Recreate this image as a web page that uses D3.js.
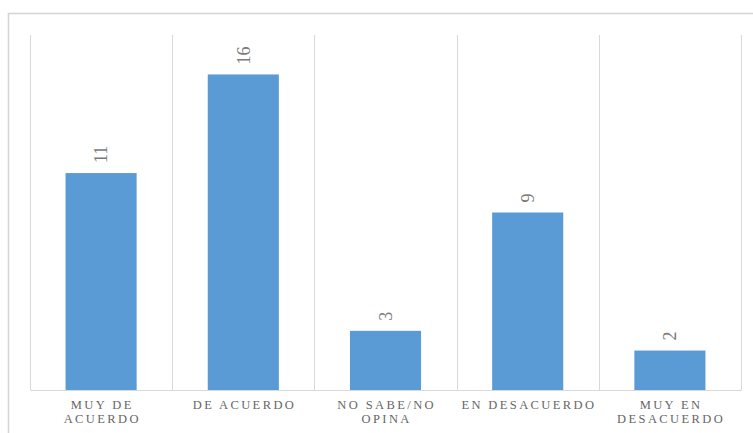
<!DOCTYPE html>
<html>
<head>
<meta charset="utf-8">
<script src="https://cdn.jsdelivr.net/npm/d3@7"></script>
<style>
  html, body { margin: 0; padding: 0; background: #fff; }
  svg { display: block; }
</style>
</head>
<body>
<svg id="chart" width="753" height="433"></svg>
<script>
const categories = ["MUY DE|ACUERDO", "DE ACUERDO", "NO SABE/NO|OPINA", "EN DESACUERDO", "MUY EN|DESACUERDO"];
const values = [11, 16, 3, 9, 2];
const yDomain = [0, 18];

const W = 753, H = 433;
const plot = { left: 30, right: 741, top: 35, bottom: 390 };
const svg = d3.select("#chart");

// outer chart frame (cropped at right/bottom)
svg.append("path")
  .attr("d", `M8.5,${H + 5} L8.5,13.5 L${W + 5},13.5`)
  .attr("fill", "none").attr("stroke", "#d4d4d4").attr("stroke-width", 1.5);

const x = d3.scaleBand().domain(categories).range([plot.left, plot.right])
  .paddingInner(0.5).paddingOuter(0.25);
const y = d3.scaleLinear().domain(yDomain).range([plot.bottom, plot.top]);

// category gridlines (boundaries between categories)
const step = x.step();
const bounds = d3.range(categories.length + 1).map(i => plot.left + i * step);
svg.append("g").selectAll("line").data(bounds).join("line")
  .attr("x1", d => Math.round(d) + 0.5).attr("x2", d => Math.round(d) + 0.5)
  .attr("y1", plot.top).attr("y2", plot.bottom)
  .attr("stroke", "#d9d9d9").attr("stroke-width", 1);

// bars
svg.append("g").selectAll("rect").data(values).join("rect")
  .attr("x", (d, i) => x(categories[i]))
  .attr("width", x.bandwidth())
  .attr("y", d => y(d))
  .attr("height", d => y(0) - y(d))
  .attr("fill", "#5b9bd5");

// baseline axis
const xAxis = d3.axisBottom(x).tickSize(0).tickFormat("");
const axisG = svg.append("g").attr("transform", `translate(0,${plot.bottom})`).call(xAxis);
axisG.select(".domain").attr("stroke", "#d9d9d9").attr("stroke-width", 1);

// category labels
const ls = 2.4;
const labG = svg.append("g");
categories.forEach((c, i) => {
  const lines = c.split("|");
  const cx = x(c) + x.bandwidth() / 2;
  const t = labG.append("text")
    .attr("text-anchor", "middle")
    .attr("font-family", "Liberation Serif, DejaVu Serif, serif")
    .attr("font-size", "12.5px")
    .attr("letter-spacing", ls + "px")
    .attr("fill", "#666666");
  lines.forEach((ln, j) => {
    t.append("tspan").attr("x", cx + ls / 2).attr("y", 408.5 + j * 14.2).text(ln);
  });
});

// value labels rotated
svg.append("g").selectAll("text").data(values).join("text")
  .attr("transform", (d, i) => `translate(${x(categories[i]) + x.bandwidth() / 2},${y(d) - 10}) rotate(-90)`)
  .attr("text-anchor", "start")
  .attr("dy", "0.35em")
  .attr("font-family", "Liberation Serif, DejaVu Serif, serif")
  .attr("font-size", "18px")
  .attr("fill", "#7a7a7a")
  .text(d => d);
</script>
</body>
</html>
